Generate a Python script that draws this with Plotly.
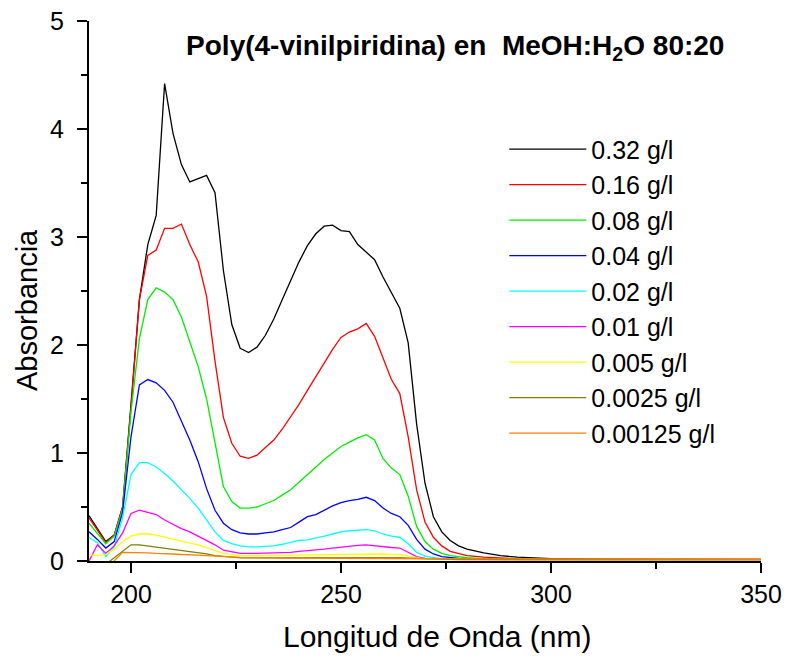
import plotly.graph_objects as go

wavelength = list(range(190, 282, 2)) + [284, 288, 292, 296, 300, 310, 320, 330, 340, 350]

labels = ["0.32 g/l", "0.16 g/l", "0.08 g/l", "0.04 g/l", "0.02 g/l",
          "0.01 g/l", "0.005 g/l", "0.0025 g/l", "0.00125 g/l"]
colors = ["#000000", "#FF0000", "#00EE00", "#0000FF", "#00FFFF",
          "#FF00FF", "#FFFF00", "#808000", "#FF8000"]

a_032 = [0.42, 0.30, 0.18, 0.24, 0.50, 1.45, 2.42, 2.93, 3.20, 4.42,
         3.96, 3.67, 3.51, 3.54, 3.57, 3.41, 2.69, 2.19, 1.97, 1.93,
         1.98, 2.09, 2.24, 2.42, 2.60, 2.77, 2.92, 3.03, 3.10, 3.11,
         3.06, 3.05, 2.93, 2.86, 2.79, 2.63, 2.49, 2.34, 2.02, 1.27,
         0.72, 0.41, 0.27, 0.19, 0.14, 0.11,
         0.075, 0.05, 0.035, 0.028, 0.022, 0.018, 0.016, 0.015, 0.014, 0.015]
a_016 = [0.40, 0.29, 0.17, 0.24, 0.50, 1.42, 2.42, 2.83, 2.88, 3.08,
         3.08, 3.12, 2.93, 2.77, 2.45, 1.85, 1.33, 1.09, 0.97, 0.95,
         0.98, 1.05, 1.12, 1.22, 1.33, 1.45, 1.58, 1.71, 1.84, 1.96,
         2.07, 2.12, 2.15, 2.20, 2.08, 1.88, 1.68, 1.55, 1.15, 0.66,
         0.36, 0.22, 0.14, 0.09, 0.07, 0.05,
         0.035, 0.025, 0.02, 0.018, 0.015, 0.013, 0.012, 0.012, 0.012, 0.013]
a_008 = [0.35, 0.26, 0.16, 0.23, 0.48, 1.38, 2.06, 2.42, 2.53, 2.49,
         2.42, 2.26, 2.02, 1.80, 1.50, 1.10, 0.69, 0.55, 0.49, 0.49,
         0.50, 0.53, 0.56, 0.61, 0.66, 0.73, 0.80, 0.87, 0.94, 1.00,
         1.06, 1.10, 1.14, 1.17, 1.12, 0.95, 0.86, 0.80, 0.60, 0.32,
         0.18, 0.11, 0.07, 0.05, 0.04, 0.03,
         0.022, 0.018, 0.015, 0.014, 0.013, 0.012, 0.012, 0.012, 0.012, 0.012]
a_004 = [0.27, 0.20, 0.12, 0.18, 0.45, 1.15, 1.63, 1.68, 1.65, 1.58,
         1.47, 1.30, 1.12, 0.92, 0.67, 0.47, 0.35, 0.29, 0.26, 0.25,
         0.25, 0.26, 0.27, 0.29, 0.31, 0.36, 0.41, 0.43, 0.47, 0.51,
         0.54, 0.56, 0.57, 0.59, 0.56, 0.49, 0.44, 0.41, 0.33, 0.20,
         0.11, 0.065, 0.04, 0.03, 0.025, 0.02,
         0.016, 0.014, 0.013, 0.012, 0.012, 0.011, 0.011, 0.011, 0.011, 0.011]
a_002 = [0.22, 0.17, 0.04, 0.13, 0.40, 0.80, 0.91, 0.91, 0.87, 0.81,
         0.74, 0.66, 0.58, 0.49, 0.38, 0.27, 0.19, 0.16, 0.14, 0.13,
         0.13, 0.135, 0.14, 0.155, 0.17, 0.19, 0.195, 0.21, 0.23, 0.25,
         0.27, 0.28, 0.285, 0.29, 0.28, 0.25, 0.23, 0.22, 0.16, 0.08,
         0.045, 0.03, 0.02, 0.018, 0.016, 0.015,
         0.013, 0.012, 0.012, 0.011, 0.011, 0.011, 0.01, 0.01, 0.01, 0.01]
a_001 = [0.0, 0.15, 0.07, 0.14, 0.26, 0.44, 0.47, 0.45, 0.43, 0.38,
         0.34, 0.30, 0.27, 0.23, 0.19, 0.15, 0.10, 0.085, 0.07, 0.07,
         0.07, 0.072, 0.075, 0.078, 0.08, 0.09, 0.095, 0.10, 0.11, 0.12,
         0.13, 0.14, 0.145, 0.15, 0.14, 0.13, 0.125, 0.12, 0.08, 0.04,
         0.025, 0.02, 0.016, 0.015, 0.014, 0.013,
         0.012, 0.011, 0.011, 0.01, 0.01, 0.01, 0.01, 0.01, 0.01, 0.01]
a_0005 = [0.06, 0.05, 0.06, 0.11, 0.18, 0.23, 0.25, 0.25, 0.24, 0.22,
          0.20, 0.185, 0.165, 0.15, 0.125, 0.10, 0.07, 0.06, 0.05, 0.05,
          0.05, 0.05, 0.05, 0.052, 0.054, 0.055, 0.057, 0.058, 0.06, 0.062,
          0.065, 0.067, 0.068, 0.07, 0.068, 0.065, 0.062, 0.06, 0.045, 0.03,
          0.02, 0.016, 0.015, 0.014, 0.013, 0.013,
          0.012, 0.012, 0.011, 0.011, 0.011, 0.01, 0.01, 0.01, 0.01, 0.01]
a_00025 = [-0.10, -0.08, -0.03, 0.03, 0.09, 0.15, 0.15, 0.14, 0.13, 0.12,
           0.11, 0.10, 0.09, 0.08, 0.065, 0.05, 0.04, 0.035, 0.03, 0.03,
           0.03, 0.03, 0.03, 0.03, 0.031, 0.031, 0.032, 0.032, 0.033, 0.033,
           0.034, 0.034, 0.035, 0.035, 0.034, 0.033, 0.032, 0.031, 0.027, 0.023,
           0.02, 0.018, 0.017, 0.016, 0.016, 0.015,
           0.015, 0.015, 0.015, 0.015, 0.015, 0.015, 0.015, 0.015, 0.015, 0.015]
a_000125 = [-0.10, -0.08, -0.05, 0.0, 0.08, 0.08, 0.075, 0.075, 0.07, 0.07,
            0.065, 0.06, 0.06, 0.055, 0.05, 0.045, 0.04, 0.037, 0.034, 0.032,
            0.03, 0.03, 0.029, 0.029, 0.028, 0.028, 0.028, 0.027, 0.027, 0.027,
            0.027, 0.027, 0.026, 0.026, 0.026, 0.025, 0.025, 0.025, 0.024, 0.023,
            0.022, 0.021, 0.02, 0.02, 0.02, 0.019,
            0.019, 0.018, 0.018, 0.018, 0.018, 0.017, 0.017, 0.017, 0.016, 0.016]

series = [a_032, a_016, a_008, a_004, a_002, a_001, a_0005, a_00025, a_000125]

fig = go.Figure()
for lab, col, ys in zip(labels, colors, series):
    fig.add_trace(go.Scatter(x=wavelength, y=ys, mode="lines", name=lab,
                             line=dict(color=col, width=1.3)))

font_family = "Liberation Sans, Arial, sans-serif"

fig.update_layout(
    width=789, height=662, autosize=False,
    margin=dict(l=89, r=28, t=21, b=101),
    plot_bgcolor="white", paper_bgcolor="white",
    font=dict(family=font_family, color="black", size=25),
    title=dict(text="<b>Poly(4-vinilpiridina) en  MeOH:H<sub>2</sub>O 80:20</b>",
               x=0.577, xanchor="center", y=0.932, yanchor="middle",
               font=dict(size=28, family=font_family, color="black")),
    legend=dict(x=0.618, y=0.805, xanchor="left", yanchor="top",
                bgcolor="rgba(0,0,0,0)", font=dict(size=25, family=font_family),
                itemwidth=77, tracegroupgap=0),
    showlegend=True,
    annotations=[
        dict(text="Longitud de Onda (nm)", xref="paper", yref="paper",
             x=(437 - 89) / 672, y=(561 - 636) / 540, xanchor="center", yanchor="middle",
             showarrow=False, font=dict(size=30, family=font_family, color="black")),
        dict(text="Absorbancia", xref="paper", yref="paper", textangle=-90,
             x=(27 - 89) / 672, y=(561 - 310) / 540, xanchor="center", yanchor="middle",
             showarrow=False, font=dict(size=29, family=font_family, color="black")),
    ],
)
fig.update_xaxes(range=[190, 350], dtick=50, tick0=200, showline=True, linecolor="black",
                 linewidth=2, ticks="outside", ticklen=10, tickwidth=2, tickcolor="black",
                 minor=dict(dtick=25, tick0=200, ticks="outside", ticklen=6, tickwidth=2, tickcolor="black"),
                 showgrid=False, zeroline=False, tickfont=dict(size=25), automargin=False)
fig.update_yaxes(range=[0, 5], dtick=1, showline=True, linecolor="black",
                 linewidth=2, ticks="outside", ticklen=10, tickwidth=2, tickcolor="black",
                 minor=dict(dtick=0.5, ticks="outside", ticklen=6, tickwidth=2, tickcolor="black"),
                 showgrid=False, zeroline=False, tickfont=dict(size=25), ticklabelstandoff=8,
                 automargin=False)

fig.write_html("out.html")
